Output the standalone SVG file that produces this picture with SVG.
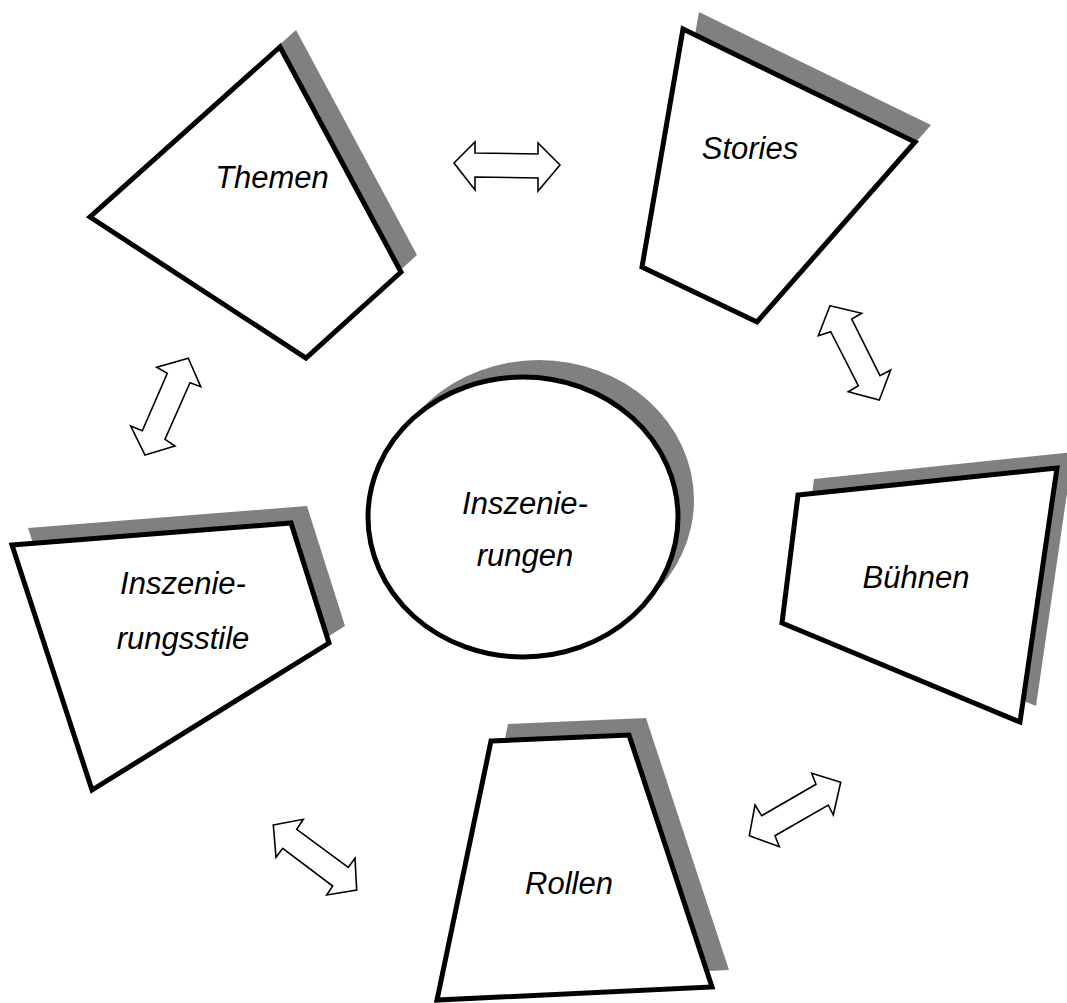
<svg xmlns="http://www.w3.org/2000/svg" width="1067" height="1003" viewBox="0 0 1067 1003">
<style>
.sh{fill:#808080;stroke:none}
.fr{fill:#fff;stroke:#000;stroke-width:5;stroke-linejoin:miter}
.lb{font-family:"Liberation Sans",Arial,sans-serif;font-style:italic;font-size:31px;fill:#000;text-anchor:middle}
.ar{fill:#fff;stroke:#000;stroke-width:1.6;stroke-linejoin:miter}
</style>
<rect width="1067" height="1003" fill="#fff"/>
<g id="themen">
<polygon class="sh" transform="translate(16,-17)" points="280,47 401,272 306,358 90,217"/>
<polygon class="fr" points="280,47 401,272 306,358 90,217"/>
<text class="lb" x="272" y="188">Themen</text>
</g>
<g id="stories">
<polygon class="sh" transform="translate(16,-17)" points="683,29 915,142 757,322 642,267"/>
<polygon class="fr" points="683,29 915,142 757,322 642,267"/>
<text class="lb" x="750" y="159">Stories</text>
</g>
<g id="inszenierungen">
<ellipse class="sh" cx="539" cy="500" rx="155" ry="140"/>
<ellipse class="fr" cx="523" cy="517" rx="155" ry="140" stroke-width="4.5"/>
<text class="lb" x="525" y="514">Inszenie-</text>
<text class="lb" x="525" y="566">rungen</text>
</g>
<g id="buehnen">
<polygon class="sh" transform="translate(16,-16)" points="798,495 1057,468 1020,722 782,623"/>
<polygon class="fr" points="798,495 1057,468 1020,722 782,623"/>
<text class="lb" x="916" y="588">Bühnen</text>
</g>
<g id="inszenierungsstile">
<polygon class="sh" transform="translate(16,-17)" points="12,545 291,523 329,643 92,790"/>
<polygon class="fr" points="12,545 291,523 329,643 92,790"/>
<text class="lb" x="183" y="594">Inszenie-</text>
<text class="lb" x="183" y="649">rungsstile</text>
</g>
<g id="rollen">
<polygon class="sh" transform="translate(17,-17)" points="491,741 629,735 712,987 437,1000"/>
<polygon class="fr" points="491,741 629,735 712,987 437,1000"/>
<text class="lb" x="569" y="894">Rollen</text>
</g>
<g id="connectors">
<polygon class="ar" points="454,163 475,142 475,153 538,154 538,143 560,165 538,191 538,178 475,177 475,190"/>
<polygon class="ar" points="830,305.7 861.7,313.3 851.7,319 880,375.7 890.7,370 879.3,400 848.3,391.7 858.3,385.7 830.7,331.7 818.3,335.7"/>
<polygon class="ar" points="188.3,358.3 200.7,386.7 190,382.7 165,439.3 175,446 145,455 130.7,426 142.3,430.7 167.3,373.3 156.7,367.3"/>
<polygon class="ar" points="273.3,825 303.3,819.3 296.7,829.3 348.3,867.3 355,858.3 356.7,890 326.7,895 332.7,886 282.7,848.3 276,857.3"/>
<polygon class="ar" points="840.7,782.3 833.3,815 828.3,805 775,835.7 779.3,846.7 749.3,835.7 755,805 761.7,815.7 816,784.3 811.7,773.3"/>
</g>
</svg>
